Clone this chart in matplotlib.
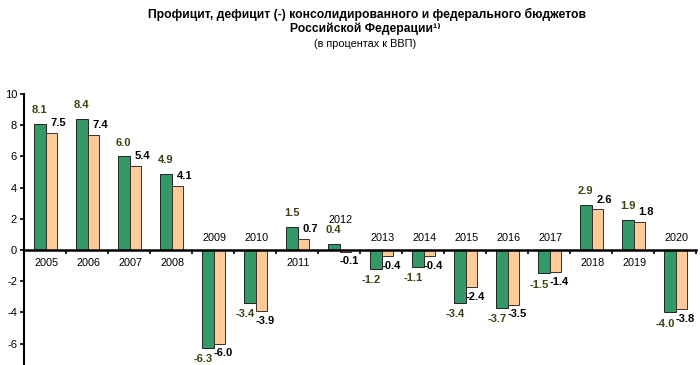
import numpy as np
import matplotlib
matplotlib.use("Agg")
from matplotlib import pyplot as plt

plt.rcParams['font.family'] = ['Liberation Sans', 'DejaVu Sans']
plt.rcParams['axes.unicode_minus'] = False

years = ['2005', '2006', '2007', '2008', '2009', '2010', '2011', '2012',
         '2013', '2014', '2015', '2016', '2017', '2018', '2019', '2020']
consolidated = [8.1, 8.4, 6.0, 4.9, -6.3, -3.4, 1.5, 0.4,
                -1.2, -1.1, -3.4, -3.7, -1.5, 2.9, 1.9, -4.0]
federal = [7.5, 7.4, 5.4, 4.1, -6.0, -3.9, 0.7, -0.1,
           -0.4, -0.4, -2.4, -3.5, -1.4, 2.6, 1.8, -3.8]

green = '#339966'
peach = '#ffcc99'
olive = '#404010'

fig = plt.figure(figsize=(7, 3.65), dpi=100)
ax = fig.add_axes([24/700, 0, 672/700, 271/365])

x = np.arange(len(years))
w = 0.28
xg = x - 0.125
xo = x + 0.155
ax.bar(xg, consolidated, w, color=green, edgecolor='#222222', linewidth=0.7, zorder=2)
ax.bar(xo, federal, w, color=peach, edgecolor='#333333', linewidth=0.7, zorder=2)

ax.set_xlim(-0.5, 15.5)
ax.set_ylim(-7.37, 10)

ax.spines['top'].set_visible(False)
ax.spines['right'].set_visible(False)
ax.spines['bottom'].set_position(('data', 0))
ax.spines['bottom'].set_linewidth(1.8)
ax.spines['left'].set_linewidth(1.5)
ax.spines['bottom'].set_zorder(3)

ax.set_xticks(np.arange(-0.5, 16, 1))
ax.set_xticklabels([])
ax.tick_params(axis='x', direction='out', length=3, width=1.2)
ax.set_yticks(np.arange(-6, 11, 2))
ax.tick_params(axis='y', direction='out', length=3, width=1.2, labelsize=8, pad=2)

for i in range(len(years)):
    g = consolidated[i]
    o = federal[i]
    # значения
    if g >= 0:
        ax.annotate(f'{g:.1f}', (xg[i], g), xytext=(0, 10), textcoords='offset points',
                    ha='center', va='center', fontsize=8, fontweight='bold', color=olive)
    else:
        ax.annotate(f'{g:.1f}', (xg[i], g), xytext=(-3, -8), textcoords='offset points',
                    ha='center', va='center', fontsize=8, fontweight='bold', color=olive)
    if o >= 0:
        ax.annotate(f'{o:.1f}', (xo[i], o), xytext=(5, 7), textcoords='offset points',
                    ha='center', va='center', fontsize=8, fontweight='bold', color='black')
    else:
        ax.annotate(f'{o:.1f}', (xo[i], o), xytext=(3, -7), textcoords='offset points',
                    ha='center', va='center', fontsize=8, fontweight='bold', color='black')
    # годы
    cx = x[i] + 0.03
    if years[i] == '2012':
        ax.text(cx, 1.95, years[i], ha='center', va='center', fontsize=7.8)
    elif g >= 0:
        ax.text(cx, -0.83, years[i], ha='center', va='center', fontsize=7.8)
    else:
        ax.text(cx, 0.8, years[i], ha='center', va='center', fontsize=7.8)

fig.text(0.524, 1 - 14/365, 'Профицит, дефицит (-) консолидированного и федерального бюджетов',
         ha='center', va='center', fontsize=8.7, fontweight='bold')
fig.text(0.522, 1 - 29/365, 'Российской Федерации¹⁾',
         ha='center', va='center', fontsize=8.7, fontweight='bold')
fig.text(0.522, 1 - 44/365, '(в процентах к ВВП)',
         ha='center', va='center', fontsize=7.8)

fig.savefig('out.png', dpi=100)
